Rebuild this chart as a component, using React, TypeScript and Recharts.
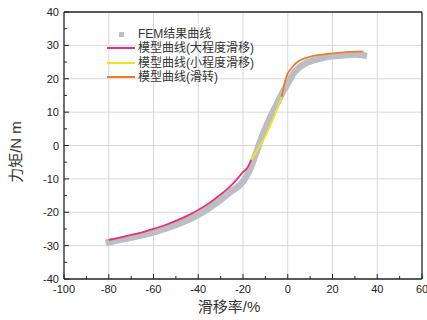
import * as React from "react";
import { LineChart, Line, XAxis, YAxis, ReferenceLine } from "recharts";

// FEM result (gray band)
const femSlip = [-80, -70, -60, -50, -40, -30, -25, -22, -20, -18, -16, -14, -11, -8, -5, -2, 0, 2, 5, 10, 15, 20, 25, 30, 34];
const femTorque = [-29.0, -27.6, -26.0, -23.8, -20.8, -16.3, -13.6, -12.2, -10.8, -8.7, -5.8, -2.0, 3.6, 8.2, 12.3, 16.3, 18.5, 21.0, 23.3, 25.2, 26.1, 26.7, 27.0, 27.3, 27.0];

// model curve: large slip
const largeSlip = [-80, -75, -70, -65, -60, -55, -50, -45, -40, -35, -30, -25, -20, -18, -16.3];
const largeTorque = [-28.3, -27.6, -26.8, -26.0, -25.0, -23.9, -22.6, -21.1, -19.3, -17.2, -14.7, -11.8, -8.0, -6.6, -4.3];

// model curve: small slip
const smallSlip = [-16.3, -14, -11.5, -9, -7, -5, -2.7];
const smallTorque = [-4.3, -1.8, 1.0, 4.2, 7.2, 10.5, 14.6];

// model curve: rolling
const rollSlip = [-2.7, -1.5, 0, 1.5, 3, 5, 8, 12, 16, 20, 25, 30, 33.8];
const rollTorque = [14.6, 18.5, 21.6, 23.0, 24.2, 25.3, 26.2, 26.9, 27.3, 27.6, 27.9, 28.1, 28.1];

const xTicks = [-100, -90, -80, -70, -60, -50, -40, -30, -20, -10, 0, 10, 20, 30, 40, 50, 60];
const yTicks = [-40, -35, -30, -25, -20, -15, -10, -5, 0, 5, 10, 15, 20, 25, 30, 35, 40];
const xGrid = [-80, -60, -40, -20, 0, 20, 40];
const yGrid = [-30, -20, -10, 0, 10, 20, 30];

const seriesNames = ["FEM结果曲线", "模型曲线(大程度滑移)", "模型曲线(小程度滑移)", "模型曲线(滑转)"];
const colors = ["#bbbec2", "#ea2f7c", "#f6e21a", "#f17a2a"];

const toPts = (xs: number[], ys: number[]) => xs.map((x, i) => ({ x, y: ys[i] }));

const FONT = "'Liberation Sans', Arial, 'Noto Sans CJK SC', sans-serif";
const AXIS = "#222";

const XTick = (props: any) => {
  const { x, y, payload } = props;
  const major = payload.value % 20 === 0;
  const axisY = y - 4;
  return (
    <g>
      <line x1={x} x2={x} y1={axisY} y2={axisY - (major ? 5 : 3)} stroke={AXIS} strokeWidth={1} />
      {major && (
        <text x={x} y={axisY + 14} textAnchor="middle" fontSize={11} fill="#222" fontFamily={FONT}>
          {payload.value}
        </text>
      )}
    </g>
  );
};

const YTick = (props: any) => {
  const { x, y, payload } = props;
  const major = payload.value % 10 === 0;
  const axisX = x + 5;
  return (
    <g>
      <line x1={axisX} x2={axisX + (major ? 5 : 3)} y1={y} y2={y} stroke={AXIS} strokeWidth={1} />
      {major && (
        <text x={axisX - 5} y={y + 4} textAnchor="end" fontSize={11} fill="#222" fontFamily={FONT}>
          {payload.value}
        </text>
      )}
    </g>
  );
};

export default function App() {
  const series = [
    toPts(femSlip, femTorque),
    toPts(largeSlip, largeTorque),
    toPts(smallSlip, smallTorque),
    toPts(rollSlip, rollTorque),
  ];
  return (
    <div style={{ position: "absolute", left: 0, top: 0, width: 427, height: 320, background: "#fff", fontFamily: FONT }}>
      <LineChart width={427} height={320} margin={{ top: 12, right: 5, bottom: 11, left: 0 }}>
        {xGrid.map((v) => (
          <ReferenceLine key={"gx" + v} x={v} stroke="#d8d8d8" strokeWidth={1} />
        ))}
        {yGrid.map((v) => (
          <ReferenceLine key={"gy" + v} y={v} stroke="#d8d8d8" strokeWidth={1} />
        ))}
        <XAxis
          type="number"
          dataKey="x"
          domain={[-100, 60]}
          ticks={xTicks}
          interval={0}
          allowDataOverflow
          height={30}
          tickSize={0}
          tickMargin={4}
          tickLine={false}
          tick={<XTick />}
          axisLine={{ stroke: AXIS, strokeWidth: 1.3 }}
        />
        <YAxis
          type="number"
          dataKey="y"
          domain={[-40, 40]}
          ticks={yTicks}
          interval={0}
          allowDataOverflow
          width={64}
          tickSize={0}
          tickMargin={5}
          tickLine={false}
          tick={<YTick />}
          axisLine={{ stroke: AXIS, strokeWidth: 1.3 }}
        />
        <ReferenceLine y={40} stroke={AXIS} strokeWidth={1.3} />
        <ReferenceLine x={60} stroke={AXIS} strokeWidth={1.3} />
        <Line data={series[0]} dataKey="y" stroke={colors[0]} strokeWidth={6.5} dot={false} isAnimationActive={false} type="monotone" strokeLinecap="square" />
        <Line data={series[1]} dataKey="y" stroke={colors[1]} strokeWidth={1.8} dot={false} isAnimationActive={false} type="monotone" />
        <Line data={series[2]} dataKey="y" stroke={colors[2]} strokeWidth={1.8} dot={false} isAnimationActive={false} type="monotone" />
        <Line data={series[3]} dataKey="y" stroke={colors[3]} strokeWidth={1.8} dot={false} isAnimationActive={false} type="monotone" />
      </LineChart>
      <div style={{ position: "absolute", left: 14, top: 152, transform: "translate(-50%,-50%) rotate(-90deg)", fontSize: 15, color: "#333", whiteSpace: "nowrap" }}>
        力矩/N m
      </div>
      <div style={{ position: "absolute", left: 229, top: 305, transform: "translate(-50%,-50%)", fontSize: 15, color: "#333", whiteSpace: "nowrap" }}>
        滑移率/%
      </div>
      <div style={{ position: "absolute", left: 107, top: 27, fontSize: 12, color: "#333", lineHeight: "14.3px" }}>
        {seriesNames.map((name, i) => (
          <div key={name} style={{ display: "flex", alignItems: "center", height: 14.3 }}>
            <div style={{ width: 28, display: "flex", justifyContent: "center" }}>
              {i === 0 ? (
                <div style={{ width: 5, height: 5, background: colors[0] }} />
              ) : (
                <div style={{ width: 28, height: 2, background: colors[i] }} />
              )}
            </div>
            <span style={{ marginLeft: 3, whiteSpace: "nowrap" }}>{name}</span>
          </div>
        ))}
      </div>
    </div>
  );
}
